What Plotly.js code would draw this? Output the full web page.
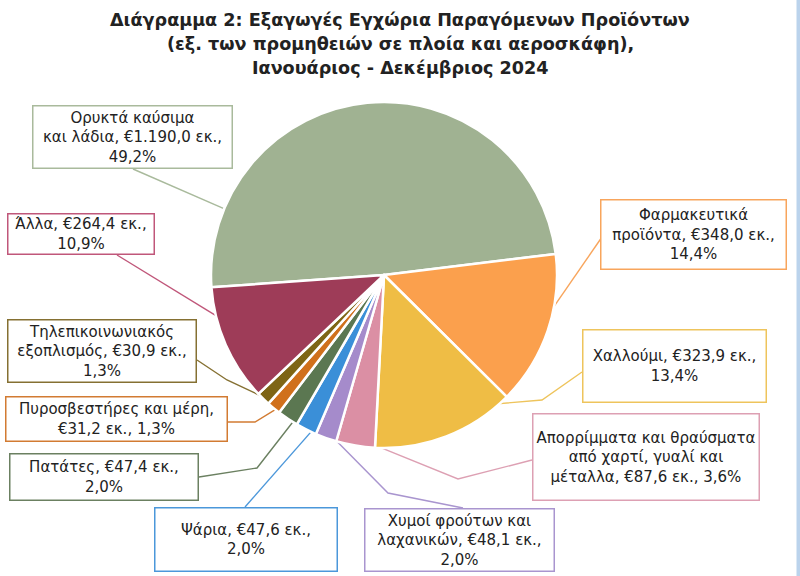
<!DOCTYPE html>
<html>
<head>
<meta charset="utf-8">
<script src="https://cdn.plot.ly/plotly-3.0.1.min.js"></script>
<style>html,body{margin:0;padding:0;background:#fff}#chart{width:800px;height:576px}</style>
</head>
<body>
<div id="chart"></div>
<script>
// ---- data ----
const categories = [
  "Ορυκτά καύσιμα και λάδια",
  "Φαρμακευτικά προϊόντα",
  "Χαλλούμι",
  "Απορρίμματα και θραύσματα από χαρτί, γυαλί και μέταλλα",
  "Χυμοί φρούτων και λαχανικών",
  "Ψάρια",
  "Πατάτες",
  "Πυροσβεστήρες και μέρη",
  "Τηλεπικοινωνιακός εξοπλισμός",
  "Άλλα"
];
const valuesMillion = [1190.0, 348.0, 323.9, 87.6, 48.1, 47.6, 47.4, 31.2, 30.9, 264.4];
const labelTemplates = [
  "Ορυκτά καύσιμα<br>και λάδια, {v},<br>{p}",
  "Φαρμακευτικά<br>προϊόντα, {v},<br>{p}",
  "Χαλλούμι, {v},<br>{p}",
  "Απορρίμματα και θραύσματα<br>από χαρτί, γυαλί και<br>μέταλλα, {v}, {p}",
  "Χυμοί φρούτων και<br>λαχανικών, {v},<br>{p}",
  "Ψάρια, {v},<br>{p}",
  "Πατάτες, {v},<br>{p}",
  "Πυροσβεστήρες και μέρη,<br>{v}, {p}",
  "Τηλεπικοινωνιακός<br>εξοπλισμός, {v},<br>{p}",
  "Άλλα, {v},<br>{p}"
];
const titleLines = [
  "Διάγραμμα 2: Εξαγωγές Εγχώρια Παραγόμενων Προϊόντων",
  "(εξ. των προμηθειών σε πλοία και αεροσκάφη),",
  "Ιανουάριος - Δεκέμβριος 2024"
];

// ---- styles ----
const colors = ["#A0B292","#FBA04D","#EFBD45","#DB8FA4","#A58BCB","#3A8FD8","#5B7751","#D0701C","#7E6515","#9E3C58"];
const lineColors = ["#A9BA9C","#F8A55C","#EEC45C","#DDA0B3","#A995CF","#4B97DA","#6B8061","#D27B32","#857032","#C0577A"];
const W = 800, H = 576;
const CX = 384, CY = 275, R = 173;          // pie geometry (pixels)
const pharmaStartDeg = 83;                   // angle where 2nd slice begins
const titleY = [20, 44, 68];
// label boxes: [centerX, centerY, width, height] in pixels
const boxes = [
  [132.5,137,201,64],[693.5,234.5,187,71],[674.5,366,185,74],[646,457,228,88],
  [459.5,540,191,64],[246,539.5,184,65],[104,477,190,48],[116.5,419,223,46],
  [102,351,190,64],[81,234,148,42]
];
// leader line start on box edge, optional elbow (pixels), fraction inside slice for tip
const leadStart = [[133,169],[602,237],[582,372],[532,460],[463,508],[245,507],[199,477],[228,422],[197,360],[117,255]];
const leadElbow = [null,null,[542,400],[458,479],[388,493],null,[257,468],[255,422],[227,380],null];
const tipFrac = [0.15,0.39,0.1,0.08,0.25,0.2,0.2,0.25,0.15,0.73];

const total = valuesMillion.reduce((a,b)=>a+b,0);
function fmtNum(v){
  const parts = v.toFixed(1).split(".");
  parts[0] = parts[0].replace(/\B(?=(\d{3})+(?!\d))/g, ".");
  return parts.join(",");
}
const rotation = pharmaStartDeg - 360*valuesMillion[0]/total;

const px = x => x / W;
const py = y => 1 - y / H;

const annotations = [];
const shapes = [];
let cum = 0;
valuesMillion.forEach((v,i)=>{
  const share = v/total;
  const startDeg = rotation + 360*cum;
  const tipDeg = startDeg + 360*share*tipFrac[i];
  cum += share;
  const a = tipDeg*Math.PI/180;
  const tx = CX + 0.98*R*Math.sin(a), ty = CY - 0.98*R*Math.cos(a);
  const txt = labelTemplates[i].replace("{v}", "€"+fmtNum(v)+" εκ.").replace("{p}", fmtNum(share*100)+"%");
  const b = boxes[i];
  annotations.push({
    xref:"paper", yref:"paper", x:px(b[0]), y:py(b[1]), xanchor:"center", yanchor:"middle",
    text:txt, showarrow:false, align:"center", valign:"middle",
    width:b[2]-3, height:b[3]-3, borderpad:0, borderwidth:1.5,
    bordercolor:lineColors[i], bgcolor:"#ffffff",
    font:{family:"DejaVu Sans, Verdana, sans-serif", size:15, color:"#222222"}
  });
  const pts = [leadStart[i]];
  if(leadElbow[i]) pts.push(leadElbow[i]);
  pts.push([tx,ty]);
  const path = pts.map((p,k)=>(k?"L":"M")+px(p[0]).toFixed(5)+","+py(p[1]).toFixed(5)).join(" ");
  shapes.push({type:"path", xref:"paper", yref:"paper", path:path, line:{color:lineColors[i], width:1.4}, layer:"below"});
});
shapes.push({type:"rect", xref:"paper", yref:"paper", x0:px(796.5), x1:px(800), y0:0, y1:1, line:{width:0}, fillcolor:"#BBD3EC"});

titleLines.forEach((t,k)=>{
  annotations.push({xref:"paper", yref:"paper", x:0.5, y:py(titleY[k]), xanchor:"center", yanchor:"middle",
    text:"<b>"+t+"</b>", showarrow:false,
    font:{family:"DejaVu Sans, Verdana, sans-serif", size:17.6, color:"#222222"}});
});

const trace = {
  type:"pie", labels:categories, values:valuesMillion, sort:false,
  direction:"clockwise", rotation:rotation,
  marker:{colors:colors, line:{color:"#ffffff", width:2.5}},
  textinfo:"none", hoverinfo:"label+value+percent",
  domain:{x:[px(CX-R), px(CX+R)], y:[py(CY+R), py(CY-R)]},
  showlegend:false
};

const layout = {
  width:W, height:H, margin:{l:0,r:0,t:0,b:0},
  paper_bgcolor:"#ffffff", plot_bgcolor:"#ffffff",
  annotations:annotations, shapes:shapes, showlegend:false
};
Plotly.newPlot("chart", [trace], layout, {displayModeBar:false, staticPlot:true});
</script>
</body>
</html>
